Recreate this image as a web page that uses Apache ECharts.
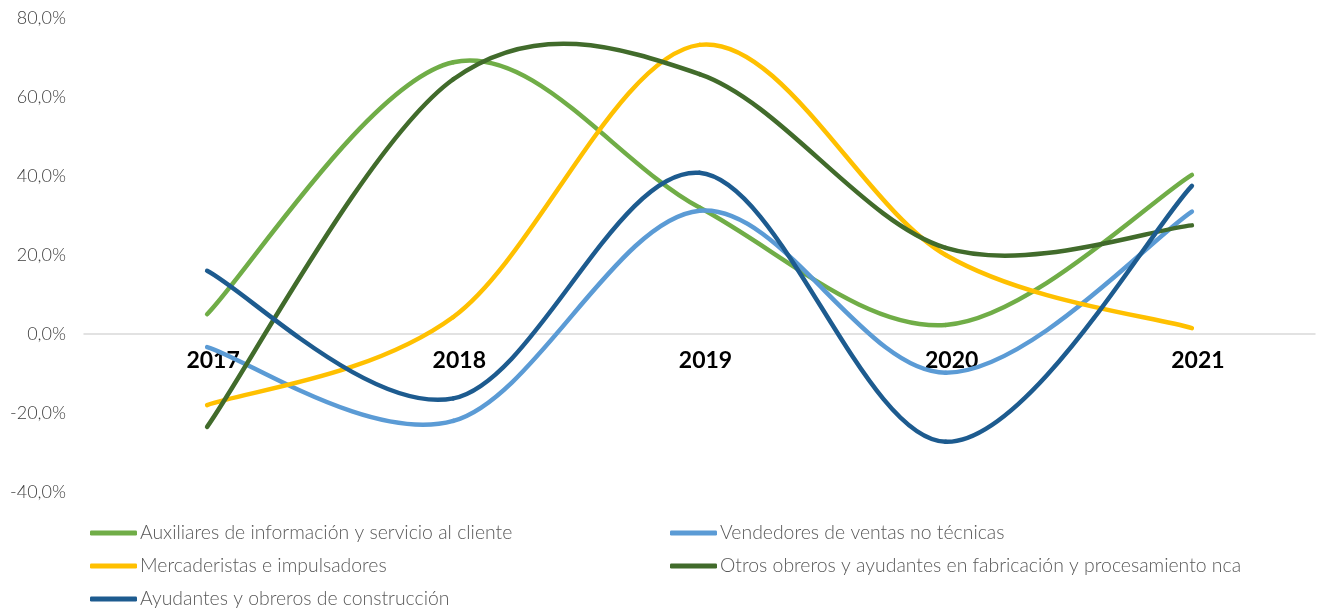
<!DOCTYPE html>
<html>
<head>
<meta charset="utf-8">
<script src="https://cdn.jsdelivr.net/npm/echarts@6/dist/echarts.min.js"></script>
<style>
html,body{margin:0;padding:0;background:#fff;}
#c{width:1319px;height:609px;}
</style>
</head>
<body>
<div id="c"></div>
<script>
// ---- data ----
const categories = ['2017', '2018', '2019', '2020', '2021'];
const seriesNames = [
  'Auxiliares de información y servicio al cliente',
  'Vendedores de ventas no técnicas',
  'Mercaderistas e impulsadores',
  'Otros obreros y ayudantes en fabricación y procesamiento nca',
  'Ayudantes y obreros de construcción'
];
const auxiliares    = [5.0, 68.8, 32.0, 2.3, 40.3];
const vendedores    = [-3.3, -22.0, 31.2, -9.8, 31.0];
const mercaderistas = [-18.0, 4.3, 73.2, 20.0, 1.5];
const otros         = [-23.5, 64.5, 65.8, 21.8, 27.5];
const ayudantes     = [16.0, -16.3, 40.8, -27.3, 37.5];
const yTicks = [-40, -20, 0, 20, 40, 60, 80];

const allValues = [auxiliares, vendedores, mercaderistas, otros, ayudantes];
const colors = ['#70AD47', '#5B9BD5', '#FFC000', '#416B2B', '#1D5B8F'];

const FONT = 'Lato, "Noto Sans", sans-serif';

function makeRender(vals, color) {
  return function (params, api) {
    const n = vals.length;
    const i = params.dataIndex;
    if (i >= n - 1) return null;
    const pts = vals.map((v, k) => api.coord([k, v]));
    const p0 = pts[Math.max(i - 1, 0)], p1 = pts[i], p2 = pts[i + 1], p3 = pts[Math.min(i + 2, n - 1)];
    return {
      type: 'bezierCurve',
      shape: {
        x1: p1[0], y1: p1[1], x2: p2[0], y2: p2[1],
        cpx1: p1[0] + (p2[0] - p0[0]) / 6, cpy1: p1[1] + (p2[1] - p0[1]) / 6,
        cpx2: p2[0] - (p3[0] - p1[0]) / 6, cpy2: p2[1] - (p3[1] - p1[1]) / 6
      },
      style: { stroke: color, lineWidth: 4.5, fill: 'none', lineCap: 'round' }
    };
  };
}

const series = allValues.map((vals, s) => ({
  name: seriesNames[s],
  type: 'custom',
  renderItem: makeRender(vals, colors[s]),
  itemStyle: { color: colors[s] },
  data: vals.map((v, k) => [k, v]),
  encode: { x: 0, y: 1 }
}));

const legendPos = [
  { name: seriesNames[0], left: 90, top: 523 },
  { name: seriesNames[1], left: 670, top: 523 },
  { name: seriesNames[2], left: 90, top: 556 },
  { name: seriesNames[3], left: 670, top: 556 },
  { name: seriesNames[4], left: 90, top: 589 }
];
const legends = legendPos.map(p => ({
  orient: 'horizontal',
  left: p.left,
  top: p.top,
  data: [p.name],
  icon: 'roundRect',
  itemWidth: 47,
  itemHeight: 5,
  padding: 0,
  selectedMode: false,
  textStyle: { fontFamily: FONT, fontSize: 19.4, fontWeight: 300, color: '#595959', lineHeight: 20, padding: [0, 0, 0, -2] }
}));

const chart = echarts.init(document.getElementById('c'), null, { renderer: 'canvas' });
chart.setOption({
  animation: false,
  color: colors,
  grid: { left: 84, right: 4, top: 18, bottom: 117, containLabel: false },
  xAxis: {
    type: 'category',
    data: categories,
    boundaryGap: true,
    offset: -158,
    axisLine: { onZero: false, lineStyle: { color: '#D9D9D9', width: 1.5 } },
    axisTick: { show: false },
    axisLabel: { margin: 15, fontFamily: FONT, fontWeight: 'bold', fontSize: 23, color: '#000', padding: [0, 0, 0, 12] },
    splitLine: { show: false }
  },
  yAxis: {
    type: 'value',
    min: yTicks[0],
    max: yTicks[yTicks.length - 1],
    interval: 20,
    axisLine: { show: false },
    axisTick: { show: false },
    splitLine: { show: false },
    axisLabel: {
      margin: 18,
      fontFamily: FONT, fontSize: 18, fontWeight: 300, color: '#404040',
      formatter: v => v.toFixed(1).replace('.', ',') + '%'
    }
  },
  legend: legends,
  series: series
});
</script>
</body>
</html>
